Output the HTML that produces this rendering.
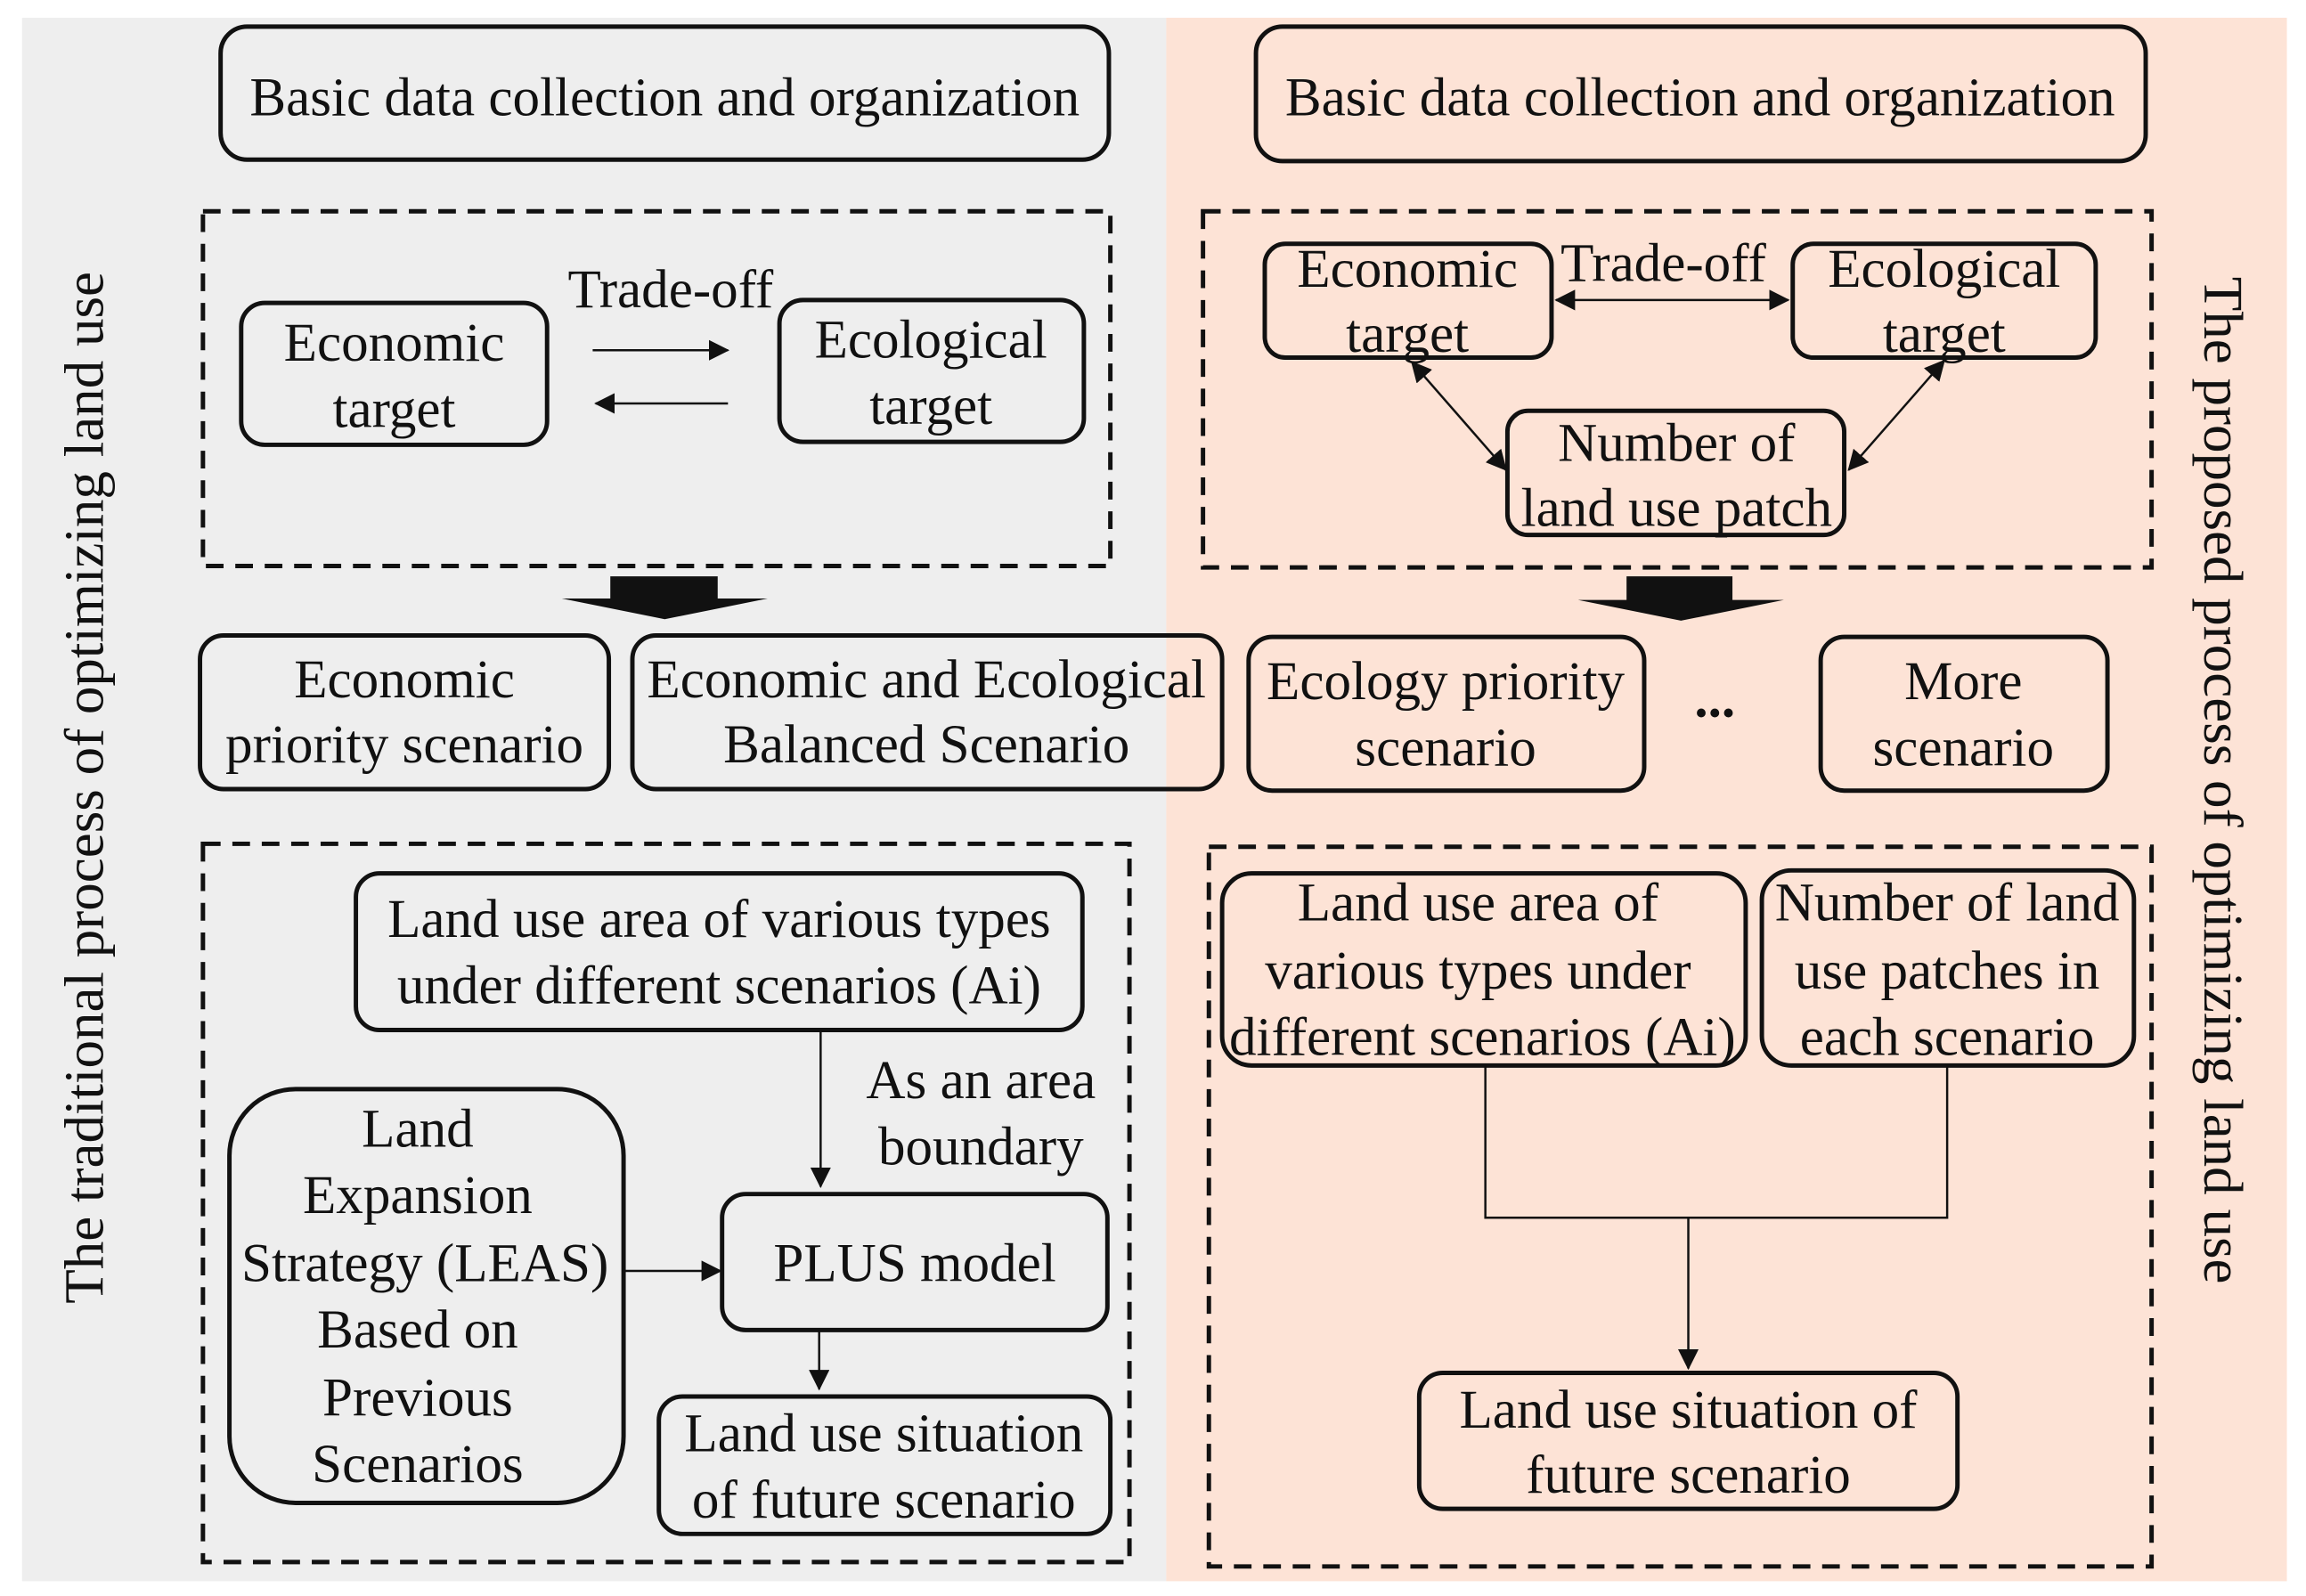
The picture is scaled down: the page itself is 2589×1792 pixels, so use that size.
<!DOCTYPE html>
<html><head><meta charset="utf-8"><style>
html,body{margin:0;padding:0;background:#fff;}
svg{display:block;}
text{font-family:"Liberation Serif",serif;font-size:37px;fill:#111;text-anchor:middle;}
.b{fill:none;stroke:#111;stroke-width:3;}
.d{fill:none;stroke:#111;stroke-width:3;stroke-dasharray:12,8;}
.l{stroke:#111;stroke-width:1.5;fill:none;}
</style></head><body>
<svg width="2589" height="1792" viewBox="0 0 1568 1080" preserveAspectRatio="none" xmlns="http://www.w3.org/2000/svg">
<defs>
<marker id="a2" markerWidth="14" markerHeight="14" refX="13" refY="7" orient="auto-start-reverse" markerUnits="userSpaceOnUse"><path d="M0,0 L14,7 L0,14 z" fill="#111"/></marker>
</defs>
<rect x="15" y="12" width="778" height="1058" fill="#eeeeee"/>
<rect x="793" y="12" width="762" height="1058" fill="#fde3d6"/>

<text transform="translate(70,533) rotate(-90)" style="font-size:38px">The traditional process of optimizing land use</text>
<text transform="translate(1499,528) rotate(90)" style="font-size:38px">The proposed process of optimizing land use</text>

<rect class="b" x="150" y="18" width="604" height="90" rx="18"/>
<text x="452" y="78">Basic data collection and organization</text>
<rect class="b" x="854" y="18" width="605" height="91" rx="18"/>
<text x="1156" y="78">Basic data collection and organization</text>

<rect class="d" x="138" y="143" width="617" height="240"/>
<rect class="b" x="164" y="205" width="208" height="96" rx="16"/>
<text x="268" y="244">Economic</text><text x="268" y="289">target</text>
<rect class="b" x="530" y="203" width="207" height="96" rx="16"/>
<text x="633" y="242">Ecological</text><text x="633" y="287">target</text>
<text x="456" y="208">Trade-off</text>
<line class="l" x1="403" y1="237" x2="495" y2="237" marker-end="url(#a2)"/>
<line class="l" x1="495" y1="273" x2="405" y2="273" marker-end="url(#a2)"/>

<rect class="d" x="818" y="143" width="645" height="241"/>
<rect class="b" x="860" y="165" width="195" height="77" rx="14"/>
<text x="957" y="194">Economic</text><text x="957" y="238">target</text>
<rect class="b" x="1219" y="165" width="206" height="77" rx="14"/>
<text x="1322" y="194">Ecological</text><text x="1322" y="238">target</text>
<text x="1131" y="190">Trade-off</text>
<line class="l" x1="1058" y1="203" x2="1216" y2="203" marker-start="url(#a2)" marker-end="url(#a2)"/>
<rect class="b" x="1025" y="278" width="229" height="84" rx="14"/>
<text x="1140" y="312">Number of</text><text x="1140" y="356">land use patch</text>
<line class="l" x1="960" y1="245" x2="1024" y2="318" marker-start="url(#a2)" marker-end="url(#a2)"/>
<line class="l" x1="1322" y1="244" x2="1257" y2="318" marker-start="url(#a2)" marker-end="url(#a2)"/>

<path d="M415,390 L488,390 L488,405 L522,405 L452,419 L382,405 L415,405 z" fill="#111"/>
<path d="M1106,390 L1178,390 L1178,406 L1213,406 L1143,420 L1073,406 L1106,406 z" fill="#111"/>

<rect class="b" x="136" y="430" width="278" height="104" rx="16"/>
<text x="275" y="472">Economic</text><text x="275" y="516">priority scenario</text>
<rect class="b" x="430" y="430" width="401" height="104" rx="16"/>
<text x="630" y="472">Economic and Ecological</text><text x="630" y="516">Balanced Scenario</text>
<rect class="b" x="849" y="431" width="269" height="104" rx="16"/>
<text x="983" y="473">Ecology priority</text><text x="983" y="518">scenario</text>
<text x="1166" y="485" style="font-weight:bold">...</text>
<rect class="b" x="1238" y="431" width="195" height="104" rx="16"/>
<text x="1335" y="473">More</text><text x="1335" y="518">scenario</text>

<rect class="d" x="138" y="571" width="630" height="486"/>
<rect class="b" x="242" y="591" width="494" height="106" rx="16"/>
<text x="489" y="634">Land use area of various types</text>
<text x="489" y="679">under different scenarios (Ai)</text>
<text x="667" y="743">As an area</text><text x="667" y="788">boundary</text>
<line class="l" x1="558" y1="697" x2="558" y2="803" marker-end="url(#a2)"/>
<rect class="b" x="156" y="737" width="268" height="280" rx="45"/>
<text x="284" y="776">Land</text>
<text x="284" y="821">Expansion</text>
<text x="289" y="867">Strategy (LEAS)</text>
<text x="284" y="912">Based on</text>
<text x="284" y="958">Previous</text>
<text x="284" y="1003">Scenarios</text>
<line class="l" x1="425" y1="860" x2="490" y2="860" marker-end="url(#a2)"/>
<rect class="b" x="491" y="808" width="262" height="92" rx="16"/>
<text x="622" y="867">PLUS model</text>
<line class="l" x1="557" y1="900" x2="557" y2="940" marker-end="url(#a2)"/>
<rect class="b" x="448" y="945" width="307" height="93" rx="16"/>
<text x="601" y="982">Land use situation</text><text x="601" y="1027">of future scenario</text>

<rect class="d" x="822" y="573" width="641" height="487"/>
<rect class="b" x="831" y="591" width="356" height="130" rx="20"/>
<text x="1005" y="623">Land use area of</text>
<text x="1005" y="669">various types under</text>
<text x="1008" y="714">different scenarios (Ai)</text>
<rect class="b" x="1198" y="589" width="253" height="132" rx="20"/>
<text x="1324" y="623">Number of land</text>
<text x="1324" y="669">use patches in</text>
<text x="1324" y="714">each scenario</text>
<path class="l" d="M1010,721 L1010,824 L1324,824 L1324,721"/>
<line class="l" x1="1148" y1="824" x2="1148" y2="926" marker-end="url(#a2)"/>
<rect class="b" x="965" y="929" width="366" height="92" rx="16"/>
<text x="1148" y="966">Land use situation of</text><text x="1148" y="1010">future scenario</text>
</svg>
</body></html>
